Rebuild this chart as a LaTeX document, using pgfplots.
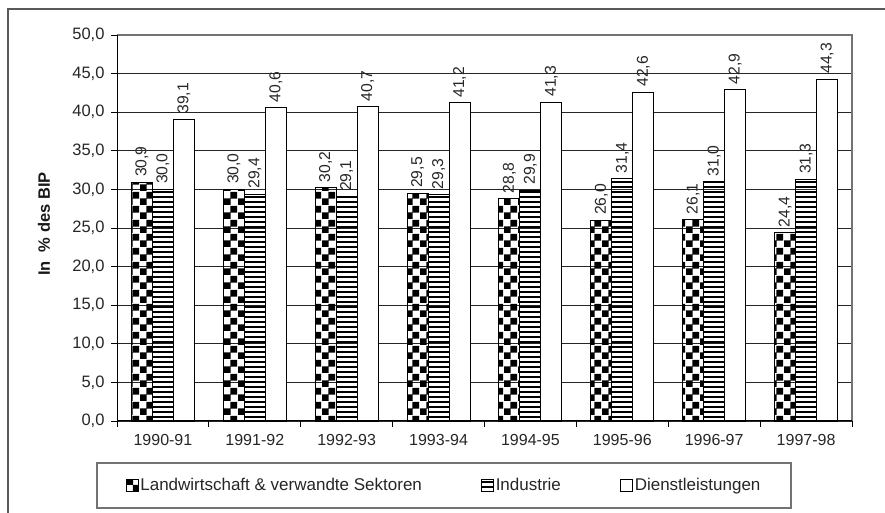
\documentclass[border=0pt]{standalone}
\usepackage{pgfplots}
\pgfplotsset{compat=1.18}
\usepackage{fontspec}
\setmainfont{Liberation Sans}
\usetikzlibrary{patterns}
\pgfdeclarepatternformonly{bigchecker}{\pgfpointorigin}{\pgfqpoint{14bp}{14bp}}{\pgfqpoint{14bp}{14bp}}{%
  \pgfpathrectangle{\pgfpointorigin}{\pgfqpoint{7.2bp}{7.2bp}}%
  \pgfpathrectangle{\pgfqpoint{6.8bp}{6.8bp}}{\pgfqpoint{7.2bp}{7.2bp}}%
  \pgfusepath{fill}}
\pgfdeclarepatternformonly{hstripes}{\pgfqpoint{-1bp}{0bp}}{\pgfqpoint{101bp}{5bp}}{\pgfqpoint{100bp}{5bp}}{%
  \pgfpathrectangle{\pgfqpoint{-1bp}{0bp}}{\pgfqpoint{102bp}{2.4bp}}%
  \pgfusepath{fill}}
\pgfplotsset{myleg/.style={legend image code/.code={\draw[##1, line width=0.8bp] (0bp,-6bp) rectangle (12bp,6bp);}}}
\newcommand\xf{\fontsize{16bp}{18bp}\selectfont}
\begin{document}
\begin{tikzpicture}[x=1bp,y=1bp]
\useasboundingbox (0,0) rectangle (885,513);
\draw[line width=1.6bp, color=black!65] (8,-5) -- (8,504) -- (890,504);
\begin{axis}[
  at={(117bp,92bp)}, anchor=south west,
  scale only axis, width=735bp, height=386bp,
  clip=false,
  xmin=-0.5, xmax=7.5, ymin=0, ymax=50,
  ybar=0pt, bar width=21bp,
  xtick={-0.5,0.5,1.5,2.5,3.5,4.5,5.5,6.5,7.5},
  x tick label as interval,
  xticklabels={{\xf 1990-91},{\xf 1991-92},{\xf 1992-93},{\xf 1993-94},{\xf 1994-95},{\xf 1995-96},{\xf 1996-97},{\xf 1997-98}},
  ytick={0,5,...,50},
  yticklabel={\fontsize{16.5bp}{18bp}\selectfont\pgfmathprintnumber{\tick}},
  xtick pos=bottom, ytick pos=left,
  tick align=outside, major tick length=6bp,
  tick style={black, line width=0.8bp},
  axis line style={draw=none},
  ymajorgrids, grid style={black!85, line width=0.8bp},
  /pgf/number format/.cd, fixed, fixed zerofill, precision=1, use comma, assume math mode=true,
  /pgfplots/.cd,
  yticklabel style={font=\fontsize{16.5bp}{18bp}\selectfont, text=black!85, xshift=-3bp},
  xticklabel style={font=\fontsize{16bp}{18bp}\selectfont, text=black!85, yshift=-4bp},
  ylabel={In~~\% des BIP},
  ylabel style={at={(axis description cs:-0.0993,0.510)}, anchor=center, font=\fontsize{16.5bp}{18bp}\selectfont\bfseries, text=black!90},
  nodes near coords,
  every node near coord/.append style={rotate=90, anchor=west, font=\fontsize{15.7bp}{17bp}\selectfont, text=black!85, inner xsep=5bp, inner ysep=0bp},
  legend columns=3,
  legend style={at={(0.4449,-0.1671)}, anchor=center, draw=black!55, line width=1.3bp,
    font=\fontsize{17bp}{19bp}\selectfont, inner xsep=29bp, inner ysep=14bp,
    nodes={inner sep=1.5bp, text=black!85},
    /tikz/every even column/.append style={column sep=58bp}},
]
\addplot[draw=black, line width=0.9bp, pattern=bigchecker, pattern color=black, myleg]
  coordinates {(0,30.9) (1,30.0) (2,30.2) (3,29.5) (4,28.8) (5,26.0) (6,26.1) (7,24.4)};
\addplot[draw=black, line width=0.9bp, pattern=hstripes, pattern color=black, myleg]
  coordinates {(0,30.0) (1,29.4) (2,29.1) (3,29.3) (4,29.9) (5,31.4) (6,31.0) (7,31.3)};
\addplot[draw=black, line width=0.9bp, fill=white, myleg]
  coordinates {(0,39.1) (1,40.6) (2,40.7) (3,41.2) (4,41.3) (5,42.6) (6,42.9) (7,44.3)};
\legend{Landwirtschaft \& verwandte Sektoren, Industrie, Dienstleistungen}
\draw[black!55, line width=1.5bp] (rel axis cs:0,1) -- (rel axis cs:1,1) -- (rel axis cs:1,0);
\draw[black, line width=1bp] (rel axis cs:0,1) -- (rel axis cs:0,0) -- (rel axis cs:1,0);
\end{axis}
\end{tikzpicture}
\end{document}
